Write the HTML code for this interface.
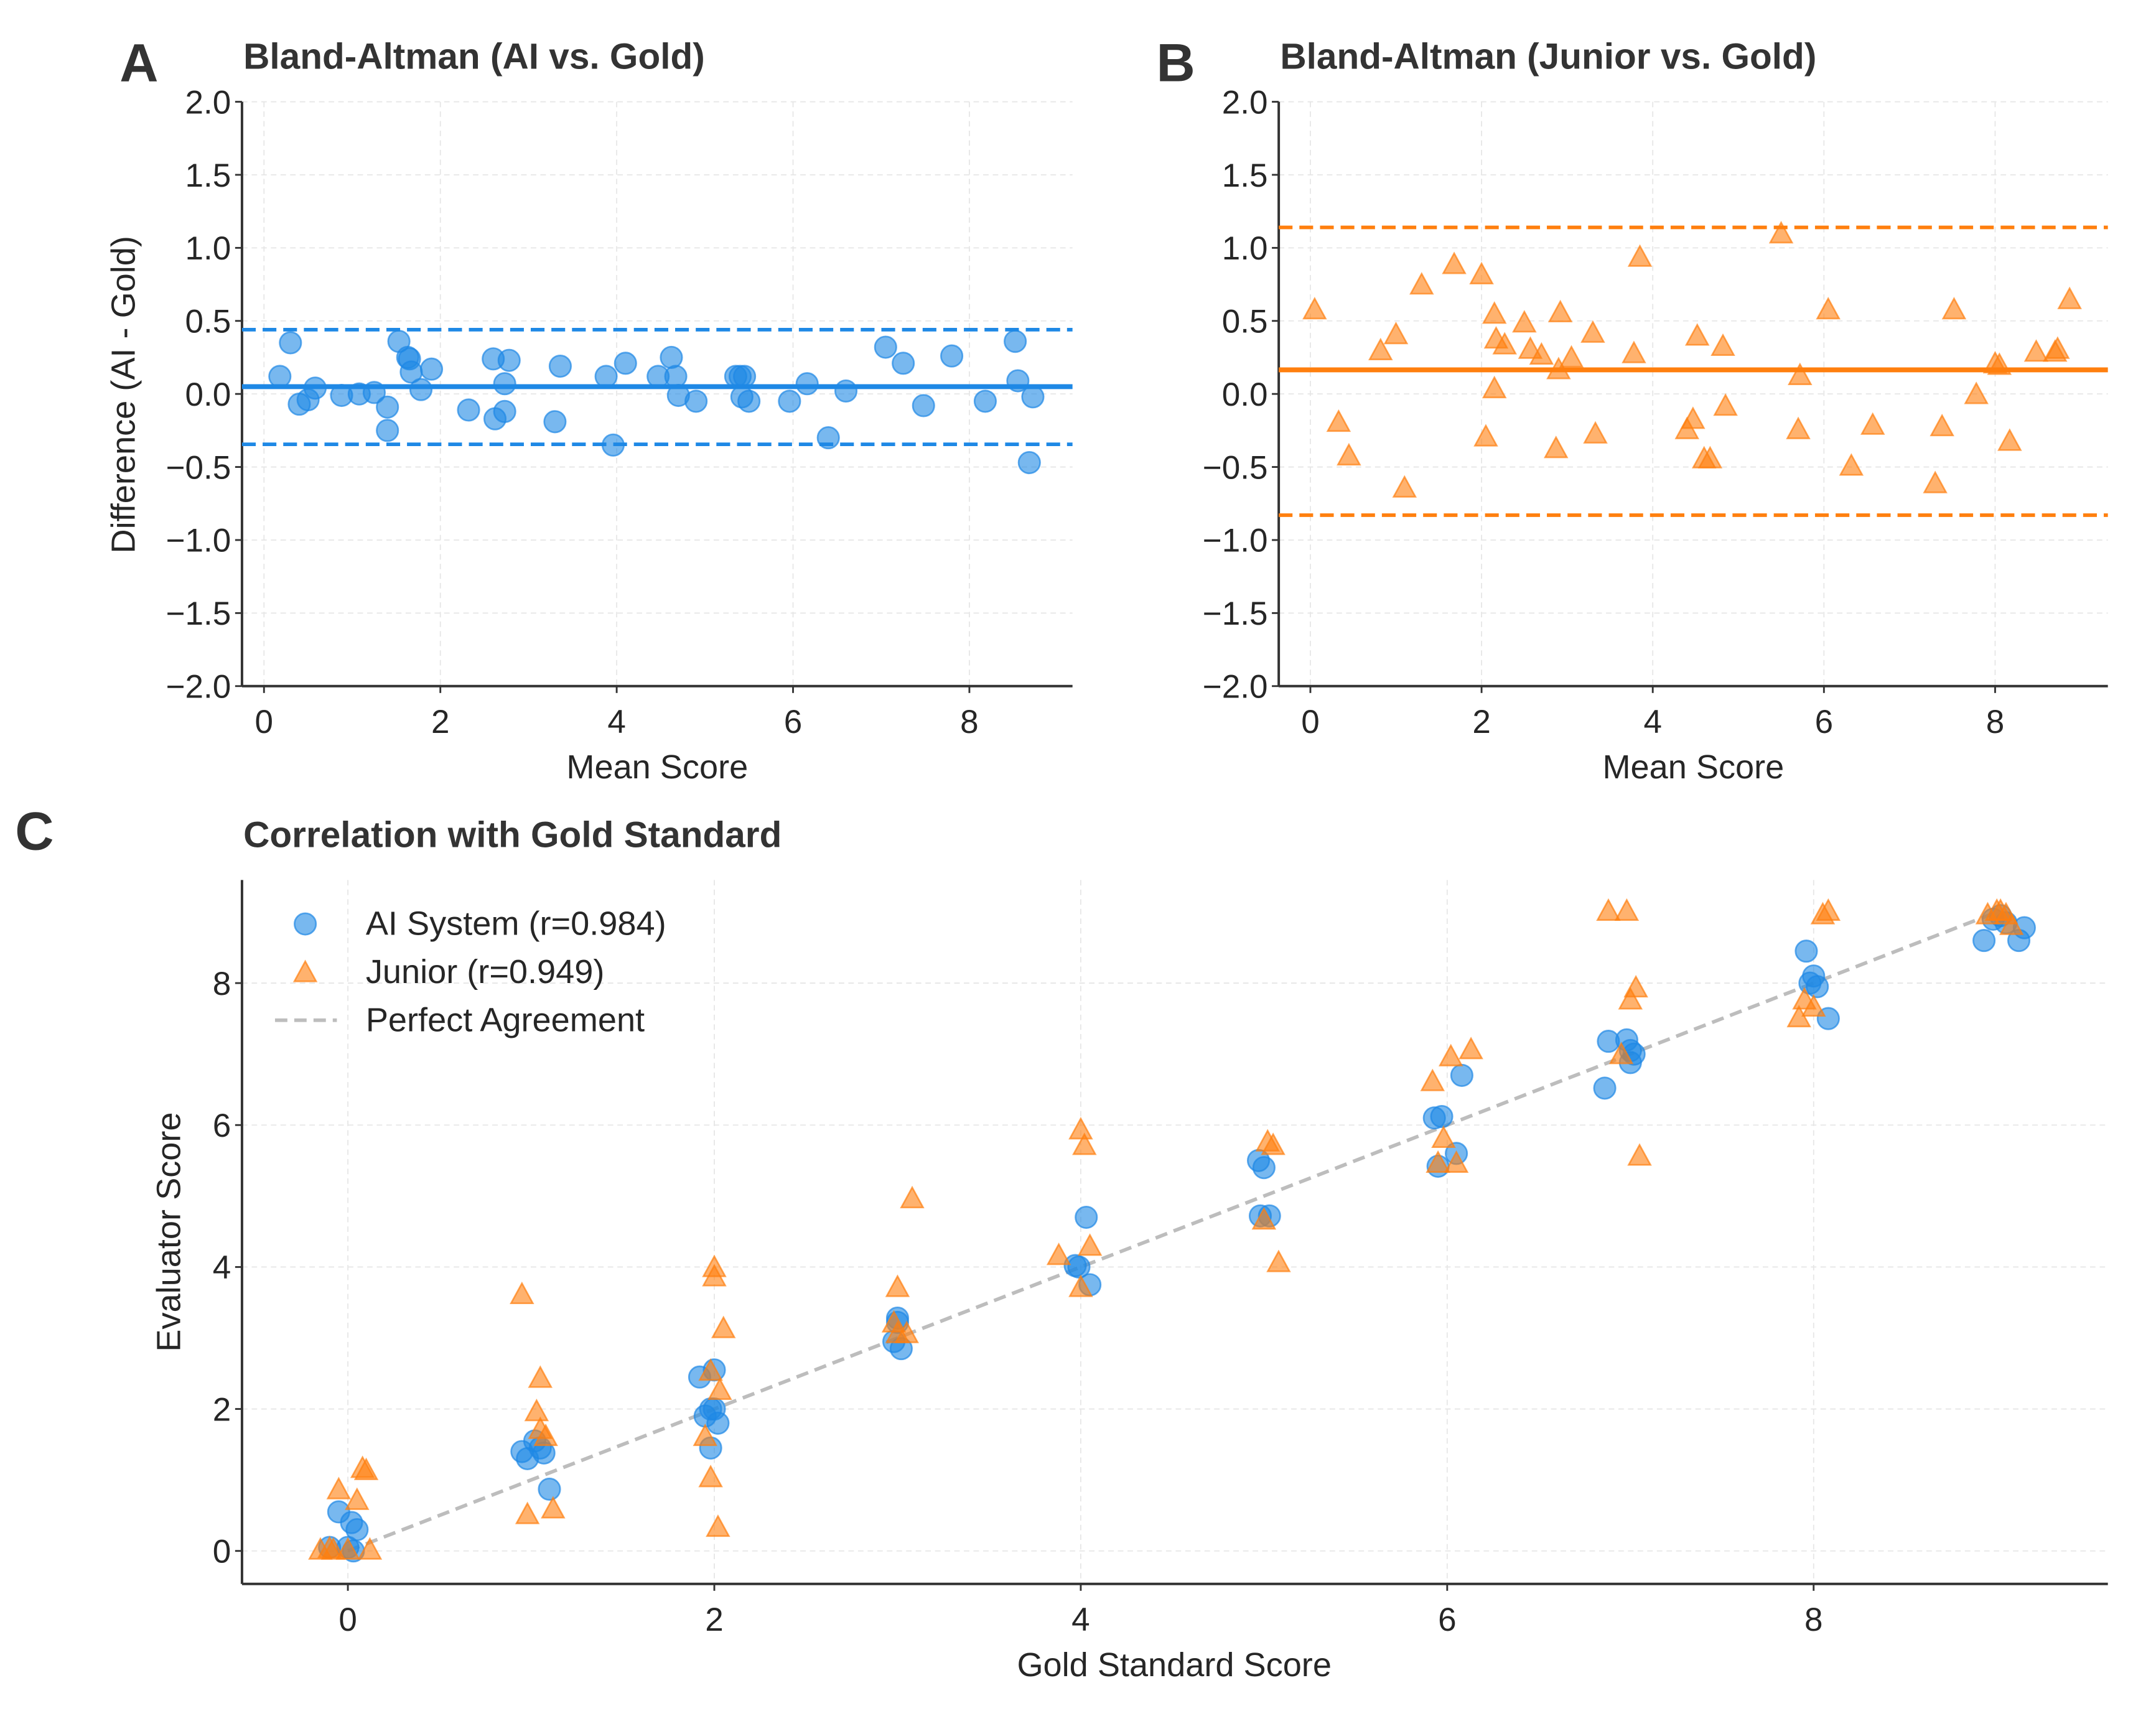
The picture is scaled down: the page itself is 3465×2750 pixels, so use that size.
<!DOCTYPE html>
<html><head><meta charset="utf-8"><style>
html,body{margin:0;padding:0;background:#fff;}
svg{display:block;font-family:"Liberation Sans",Arial,sans-serif;}
</style></head><body>
<svg id="fig" xmlns="http://www.w3.org/2000/svg" width="3465" height="2750" viewBox="0 0 1568 1244.4">
<rect x="0" y="0" width="1568" height="1244.4" fill="#fff"/>
</svg>
<script>
// ---- Panel A data (mean, difference) ----
const aiMean = [0.18,0.3,0.4,0.5,0.58,0.88,1.08,1.25,1.4,1.4,1.53,1.63,1.65,1.67,1.78,1.9,2.32,2.6,2.62,2.73,2.73,2.78,3.3,3.36,3.88,3.96,4.1,4.47,4.62,4.67,4.7,4.9,5.35,5.4,5.42,5.45,5.5,5.96,6.16,6.4,6.6,7.05,7.25,7.48,7.8,8.18,8.52,8.55,8.68,8.72];
const aiDiff = [0.12,0.35,-0.07,-0.04,0.04,-0.01,0.0,0.01,-0.09,-0.25,0.36,0.25,0.24,0.15,0.03,0.17,-0.11,0.24,-0.17,0.07,-0.12,0.23,-0.19,0.19,0.12,-0.35,0.21,0.12,0.25,0.12,-0.01,-0.05,0.12,0.12,-0.02,0.12,-0.05,-0.05,0.07,-0.3,0.02,0.32,0.21,-0.08,0.26,-0.05,0.36,0.09,-0.47,-0.02];
const aiBias = 0.05, aiUpper = 0.44, aiLower = -0.345;
// ---- Panel B data ----
const jrMean = [0.05,0.33,0.45,0.82,1.0,1.1,1.3,1.68,2.0,2.05,2.15,2.15,2.17,2.27,2.5,2.57,2.7,2.87,2.9,2.92,3.05,3.3,3.33,3.78,3.85,4.4,4.47,4.52,4.6,4.67,4.82,4.85,5.5,5.7,5.72,6.05,6.32,6.57,7.3,7.38,7.52,7.78,8.0,8.05,8.17,8.48,8.7,8.73,8.87];
const jrDiff = [0.57,-0.2,-0.43,0.29,0.4,-0.65,0.74,0.88,0.81,-0.3,0.54,0.03,0.37,0.33,0.48,0.3,0.26,-0.38,0.16,0.55,0.24,0.41,-0.28,0.27,0.93,-0.25,-0.18,0.39,-0.45,-0.45,0.32,-0.09,1.09,-0.25,0.12,0.57,-0.5,-0.22,-0.62,-0.23,0.57,-0.01,0.2,0.19,-0.33,0.28,0.28,0.3,0.64];
const jrBias = 0.165, jrUpper = 1.14, jrLower = -0.83;
// ---- Panel C data ----
const aiGold = [-0.1,-0.05,0.0,0.02,0.05,0.03,0.95,0.98,1.02,1.05,1.07,1.1,1.92,1.95,1.98,2.0,1.98,2.02,2.0,2.98,3.0,3.0,3.02,3.97,3.99,4.03,4.05,4.97,5.0,4.98,5.03,5.93,5.97,5.95,6.05,6.08,6.86,6.88,6.98,7.0,7.0,7.02,7.96,7.98,8.0,8.02,8.08,8.93,8.98,9.02,9.12,9.15,9.05];
const aiEval = [0.05,0.55,0.05,0.4,0.3,0.0,1.4,1.3,1.55,1.45,1.38,0.87,2.45,1.9,2.0,2.55,1.45,1.8,2.0,2.95,3.28,3.22,2.85,4.02,4.0,4.7,3.75,5.5,5.4,4.72,4.72,6.1,6.12,5.42,5.6,6.7,6.52,7.18,7.2,7.05,6.88,7.0,8.45,8.0,8.1,7.95,7.5,8.6,8.9,8.95,8.6,8.78,8.85];
const jrGold = [-0.15,-0.1,-0.05,0.0,0.05,0.08,0.1,0.12,-0.08,0.95,0.98,1.03,1.05,1.05,1.08,1.12,1.95,1.98,2.0,2.0,2.02,2.03,2.05,1.98,3.0,3.0,3.05,3.08,2.98,3.88,4.0,4.02,4.0,4.05,5.0,5.02,5.05,5.08,5.92,5.95,5.98,6.02,6.05,6.13,6.88,6.95,6.98,7.0,7.03,7.05,7.92,7.95,8.0,8.05,8.08,8.95,9.0,9.05,9.02,9.08];
const jrEval = [0.0,0.02,0.85,0.0,0.7,1.15,1.12,0.0,0.0,3.6,0.5,1.95,2.42,1.7,1.6,0.58,1.6,1.02,3.85,3.98,0.32,2.25,3.12,2.52,3.7,3.05,3.05,4.95,3.2,4.15,5.92,5.7,3.7,4.28,4.65,5.75,5.7,4.05,6.6,5.45,5.8,6.95,5.45,7.05,9.0,6.98,9.0,7.75,7.92,5.55,7.5,7.75,7.65,8.95,9.0,8.95,9.0,8.95,9.0,8.8];
const baTicksX = [0,2,4,6,8];
const baTicksY = [-2,-1.5,-1,-0.5,0,0.5,1,1.5,2];
const cTicksX = [0,2,4,6,8];
const cTicksY = [0,2,4,6,8];

const NS = "http://www.w3.org/2000/svg";
const svg = document.getElementById('fig');
const BLUE = "#1E88E5", ORANGE = "#FF7F0E", TXT = "#262626";
const TF = 24, AF = 24.5;
function mk(tag, attrs, parent){ const e=document.createElementNS(NS,tag); for(const k in attrs) e.setAttribute(k,attrs[k]); (parent||svg).appendChild(e); return e; }
function txt(s, attrs, parent){ const e=mk('text',attrs,parent); e.textContent=s; return e; }
function fmt(v, dec){ const s=Math.abs(v).toFixed(dec); return (v<0?"\u2212":"")+s; }
function scale(d0,d1,r0,r1){ return v => r0+(v-d0)*(r1-r0)/(d1-d0); }

function axes(g, L, R, T, B, xs, ys, xt, yt, ydec){
  for(const t of xt){ const gl=mk('line',{x1:xs(t),x2:xs(t),y1:T,y2:B,stroke:"#e6e6e6","stroke-width":0.8,"stroke-dasharray":"4,3"},g);   }
  for(const t of yt){ const gl=mk('line',{x1:L,x2:R,y1:ys(t),y2:ys(t),stroke:"#e6e6e6","stroke-width":0.8,"stroke-dasharray":"4,3"},g);   }
  const xa=mk('g',{},g);  
  mk('line',{x1:L,x2:R,y1:B,y2:B,stroke:"#333","stroke-width":1.8},xa);
  for(const t of xt){ mk('line',{x1:xs(t),x2:xs(t),y1:B,y2:B+5,stroke:"#333","stroke-width":1.3},xa);
    const l=txt(String(t),{x:xs(t),y:B+34,"text-anchor":"middle","font-size":TF,fill:TXT},xa);   }
  const ya=mk('g',{},g);  
  mk('line',{x1:L,x2:L,y1:T,y2:B,stroke:"#333","stroke-width":1.8},ya);
  for(const t of yt){ mk('line',{x1:L-5,x2:L,y1:ys(t),y2:ys(t),stroke:"#333","stroke-width":1.3},ya);
    const l=txt(fmt(t,ydec),{x:L-8,y:ys(t)+8.5,"text-anchor":"end","font-size":TF,fill:TXT},ya);   }
}
function circle(g,x,y,c){ const e=mk('circle',{cx:x,cy:y,r:7.8,fill:c,"fill-opacity":0.6,stroke:c,"stroke-opacity":0.7,"stroke-width":1.2},g);   return e; }
function tri(g,x,y,c){ const s=8.8; const e=mk('polygon',{points:`${x},${y-s} ${x-s*0.9},${y+s*0.65} ${x+s*0.9},${y+s*0.65}`,fill:c,"fill-opacity":0.6,stroke:c,"stroke-opacity":0.7,"stroke-width":1.2},g);   return e; }

function baPanel(name, L, R, x0pix, x8pix, means, diffs, bias, up, lo, color, marker, letter, letterX, title, ylabel){
  const T=74,B=499;
  const g=mk('g',{});  
  const xs=scale(0,8,x0pix,x8pix), ys=scale(-2,2,B,T);
  axes(g,L,R,T,B,xs,ys,baTicksX,baTicksY,1);
  const pts=mk('g',{},g);  
  for(let i=0;i<means.length;i++) marker(pts,xs(means[i]),ys(diffs[i]),color);
  const bl=mk('line',{x1:L,x2:R,y1:ys(bias),y2:ys(bias),stroke:color,"stroke-width":3.6},g);  
  const ul=mk('line',{x1:L,x2:R,y1:ys(up),y2:ys(up),stroke:color,"stroke-width":2.6,"stroke-dasharray":"10,5"},g);  
  const ll=mk('line',{x1:L,x2:R,y1:ys(lo),y2:ys(lo),stroke:color,"stroke-width":2.6,"stroke-dasharray":"10,5"},g);  
  const pl=txt(letter,{x:letterX,y:59,"font-size":39,"font-weight":"bold",fill:"#333"},g);  
  const ti=txt(title,{x:L+1,y:50,"font-size":26.5,"font-weight":"bold",fill:"#333"},g);  
  const xl=txt("Mean Score",{x:(L+R)/2,y:566,"text-anchor":"middle","font-size":AF,fill:TXT},g);  
  if(ylabel){ const yl=txt(ylabel,{x:0,y:0,"text-anchor":"middle","font-size":AF,fill:TXT,transform:`translate(98,287) rotate(-90)`},g);   }
}
baPanel('panel-a-bland-altman-ai',176,780,192,705,aiMean,aiDiff,aiBias,aiUpper,aiLower,BLUE,circle,'A',87,'Bland-Altman (AI vs. Gold)','Difference (AI - Gold)');
baPanel('panel-b-bland-altman-junior',930,1533,953,1451,jrMean,jrDiff,jrBias,jrUpper,jrLower,ORANGE,tri,'B',841,'Bland-Altman (Junior vs. Gold)',null);

// Panel C
(function(){
  const L=176,R=1533,T=640,B=1152;
  const g=mk('g',{});  
  const xs=scale(0,8,253,1319), ys=scale(0,8,1128,715);
  axes(g,L,R,T,B,xs,ys,cTicksX,cTicksY,0);
  const pa=mk('line',{x1:xs(0),y1:ys(0),x2:xs(9),y2:ys(9),stroke:"#bdbdbd","stroke-width":2.6,"stroke-dasharray":"9,5"},g);  
  const ga=mk('g',{},g);  
  for(let i=0;i<aiGold.length;i++) circle(ga,xs(aiGold[i]),ys(aiEval[i]),BLUE);
  const gj=mk('g',{},g);  
  for(let i=0;i<jrGold.length;i++) tri(gj,xs(jrGold[i]),ys(jrEval[i]),ORANGE);
  const pl=txt('C',{x:11,y:618,"font-size":39,"font-weight":"bold",fill:"#333"},g);  
  const ti=txt('Correlation with Gold Standard',{x:177,y:616,"font-size":26.5,"font-weight":"bold",fill:"#333"},g);  
  const xl=txt('Gold Standard Score',{x:854,y:1219,"text-anchor":"middle","font-size":AF,fill:TXT},g);  
  const yl=txt('Evaluator Score',{x:0,y:0,"text-anchor":"middle","font-size":AF,fill:TXT,transform:'translate(131,896) rotate(-90)'},g);  
  const lg=mk('g',{},g);  
  const e1=mk('g',{},lg);  
  circle(e1,222,672,BLUE); txt('AI System (r=0.984)',{x:266,y:680,"font-size":AF,fill:TXT},e1);
  const e2=mk('g',{},lg);  
  tri(e2,222,708,ORANGE); txt('Junior (r=0.949)',{x:266,y:715,"font-size":AF,fill:TXT},e2);
  const e3=mk('g',{},lg);  
  mk('line',{x1:200,x2:245,y1:742,y2:742,stroke:"#bdbdbd","stroke-width":2.6,"stroke-dasharray":"9,5"},e3); txt('Perfect Agreement',{x:266,y:750,"font-size":AF,fill:TXT},e3);
})();
</script>
</body></html>
